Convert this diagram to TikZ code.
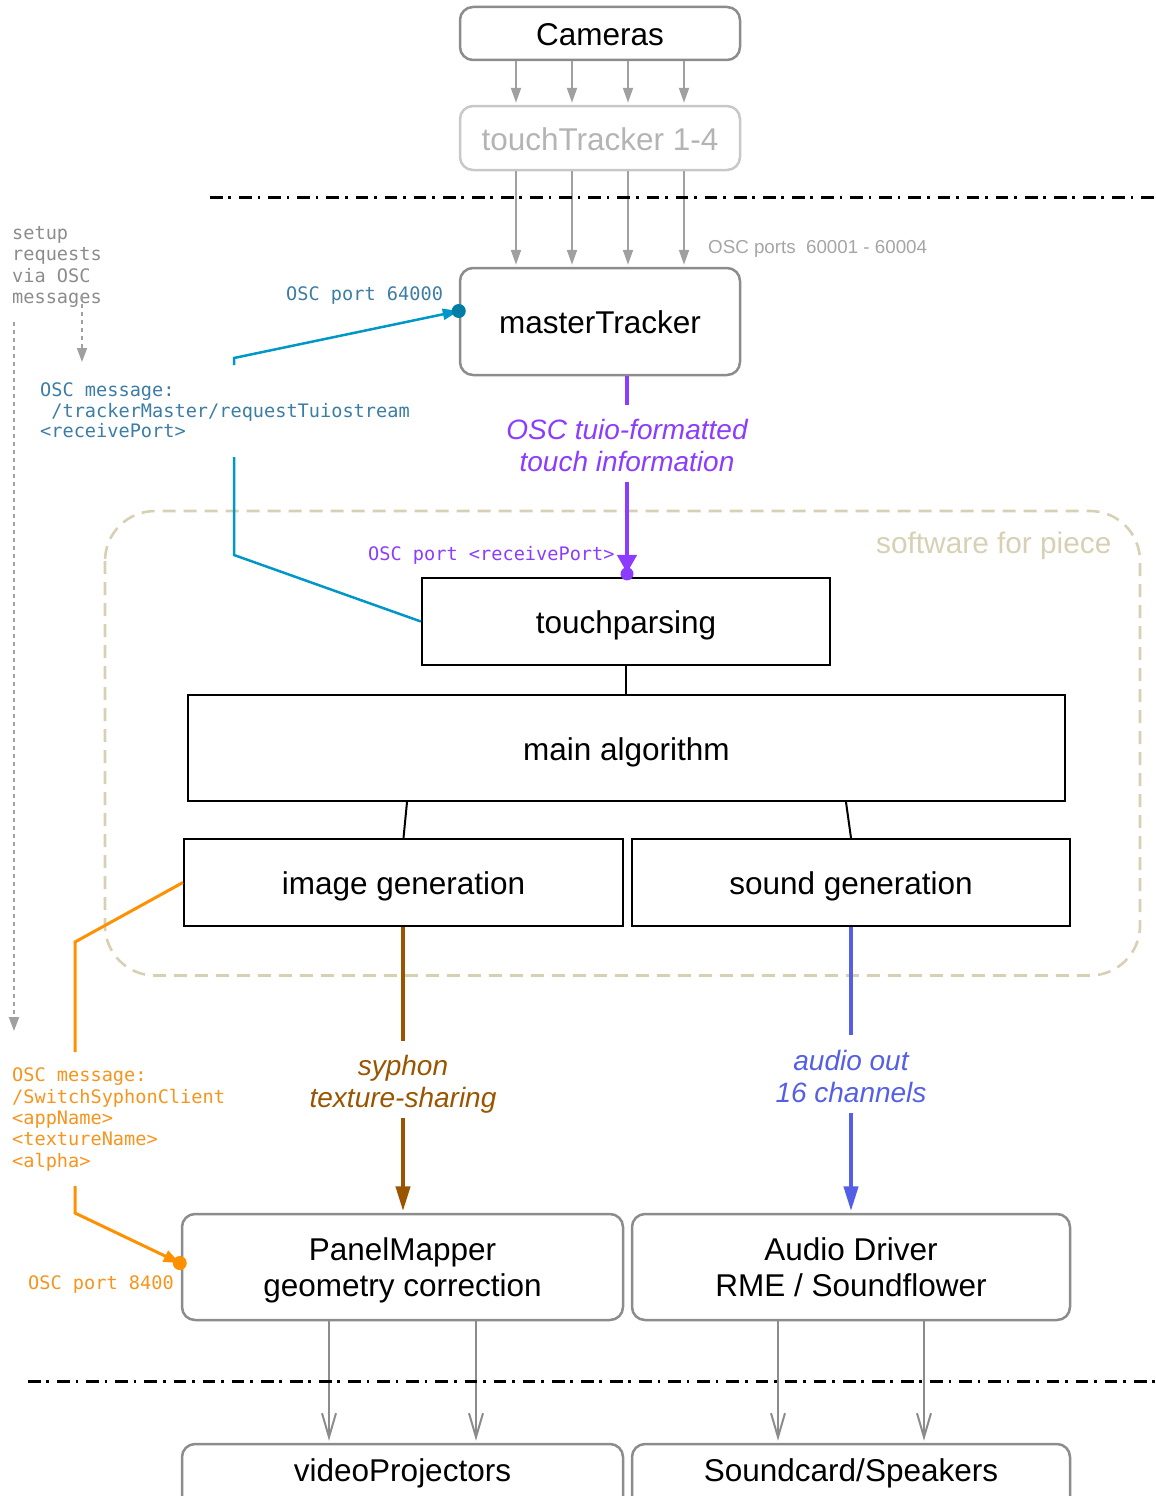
\documentclass[tikz,border=0pt]{standalone}
\usepackage{fontspec}
\setmainfont{Liberation Sans}
\newfontfamily\monof{DejaVu Sans Mono}
\usetikzlibrary{arrows.meta,calc}
\definecolor{boxgray}{HTML}{8C8C8C}
\definecolor{argray}{HTML}{A0A0A0}
\definecolor{ltgray}{HTML}{C8C8C8}
\definecolor{lttext}{HTML}{B4B4B4}
\definecolor{portgray}{HTML}{A5A5A5}
\definecolor{setupgray}{HTML}{8C8C8C}
\definecolor{tanc}{HTML}{D8D0B4}
\definecolor{reqblue}{HTML}{0096C8}
\definecolor{dotblue}{HTML}{007DA5}
\definecolor{txtblue}{HTML}{3C7DA5}
\definecolor{tuioc}{HTML}{8C3CFF}
\definecolor{syph}{HTML}{995500}
\definecolor{audioc}{HTML}{555FE6}
\definecolor{orng}{HTML}{FF9100}
\definecolor{orngtxt}{HTML}{F7941D}
\begin{document}
\begin{tikzpicture}[x=1pt,y=-1pt,
 gbox/.style={draw=boxgray,line width=2.5pt,rounded corners=13pt,inner sep=0pt,align=center,font=\fontsize{31.5}{36}\selectfont},
 kbox/.style={draw=black,line width=2.2pt,inner sep=0pt,font=\fontsize{31.5}{36}\selectfont},
 oneline/.style={text height=24pt,text depth=0pt},
 garrow/.style={draw=argray,line width=2pt,-{Triangle[length=15pt,width=10pt]},shorten >=2pt},
 barb/.style={draw=boxgray,line width=2pt,-{Straight Barb[length=24pt,width=14pt]},shorten >=2pt},
 dashdot/.style={line width=3pt,dash pattern=on 12.7pt off 5.7pt on 2.7pt off 8pt},
 mono/.style={font=\monof\fontsize{18.6}{21.3}\selectfont,anchor=base west,inner sep=0pt},
 flowlabel/.style={font=\itshape\fontsize{28}{31.5}\selectfont,align=center,inner sep=0pt},
 dotted gray/.style={draw=argray,line width=2pt,dash pattern=on 4pt off 4pt,-{Triangle[length=14pt,width=10pt]}},
]
\useasboundingbox (0,0) rectangle (1156,1496);
\clip (0,0) rectangle (1156,1496);

% software frame
\draw[tanc,line width=2.6pt,dash pattern=on 13pt off 8pt,rounded corners=50pt] (105,511) rectangle (1140,975.5);
\node[anchor=base west,inner sep=0pt,text=tanc,font=\fontsize{29.8}{34}\selectfont] (sw) at (876,553) {software for piece};

% nodes
\node[gbox,oneline,minimum width=280pt,minimum height=53pt] (cam) at (600,33.5) {Cameras};
\node[gbox,oneline,draw=ltgray,text=lttext,minimum width=280pt,minimum height=64pt] (tt) at (600,138) {touchTracker 1-4};
\node[gbox,oneline,minimum width=280pt,minimum height=107pt] (mt) at (600,321.5) {masterTracker};
\node[kbox,oneline,minimum width=408pt,minimum height=87pt] (tp) at (626,621.5) {touchparsing};
\node[kbox,oneline,minimum width=877pt,minimum height=106pt] (ma) at (626.5,748) {main algorithm};
\node[kbox,oneline,minimum width=439pt,minimum height=87pt] (ig) at (403.5,882.5) {image generation};
\node[kbox,oneline,minimum width=438pt,minimum height=87pt] (sg) at (851,882.5) {sound generation};
\node[gbox,text depth=0pt,minimum width=441pt,minimum height=106pt] (pm) at (402.5,1267) {PanelMapper\\geometry correction};
\node[gbox,minimum width=438pt,minimum height=106pt] (ad) at (851,1267) {Audio Driver\\RME / Soundflower};
\node[gbox,minimum width=441pt,minimum height=80pt] (vp) at (402.5,1484) {};
\node[oneline,font=\fontsize{31.5}{36}\selectfont,inner sep=0pt] (vpt) at (402.5,1469.5) {videoProjectors};
\node[gbox,minimum width=438pt,minimum height=80pt] (sp) at (851,1484) {};
\node[oneline,font=\fontsize{31.5}{36}\selectfont,inner sep=0pt] (spt) at (851,1469.5) {Soundcard/Speakers};

% gray tracker arrows
\foreach \x in {516,572,628,684}{
  \coordinate (cx) at (\x,0);
  \draw[garrow] (cam.south -| cx) -- (tt.north -| cx);
  \draw[garrow] (tt.south -| cx) -- (mt.north -| cx);
}
\node[anchor=base west,inner sep=0pt,text=portgray,font=\fontsize{18.75}{22}\selectfont] (ports) at (708,253) {OSC ports~ 60001 - 60004};

% bottom arrows
\foreach \x in {329,476}{
  \coordinate (bx) at (\x,0);
  \draw[barb] (pm.south -| bx) -- (vp.north -| bx);
}
\foreach \x in {778,924}{
  \coordinate (bx) at (\x,0);
  \draw[barb] (ad.south -| bx) -- (sp.north -| bx);
}

% separators
\coordinate (s1a) at (210,197); \coordinate (s1b) at (1160,197);
\coordinate (s2a) at (28,1381); \coordinate (s2b) at (1160,1381);
\draw[dashdot] (s1a) -- (s1b);
\draw[dashdot] (s2a) -- (s2b);

% internal connectors
\coordinate (c406) at (407,0); \coordinate (c846) at (846,0);
\draw[line width=2pt] (tp.south) -- (ma.north -| tp.south);
\draw[line width=2pt] (ma.south -| c406) -- (ig.north);
\draw[line width=2pt] (ma.south -| c846) -- (sg.north);

% tuio flow
\node[flowlabel,text=tuioc] (tuiol) at (627,445.3) {OSC tuio-formatted\\touch information};
\draw[tuioc,line width=4.5pt] (mt.south -| tuiol) -- ([yshift=14pt]tuiol.north);
\draw[tuioc,line width=4.5pt,-{Triangle[length=18pt,width=19pt]},shorten >=4pt] ([yshift=-10.5pt]tuiol.south) -- (tp.north -| tuiol);
\fill[tuioc] ($(tp.north -| tuiol)+(0,-3)$) circle (6.5pt);
\node[mono,text=tuioc] (pp) at (368,560) {OSC port <receivePort>};

% syphon flow
\node[flowlabel,text=syph] (syl) at (403,1084.3) {syphon\\texture-sharing};
\draw[syph,line width=4.3pt] (ig.south -| syl) -- ([yshift=14.5pt]syl.north);
\draw[syph,line width=4.3pt,-{Triangle[length=25pt,width=14pt]},shorten >=1.5pt] ([yshift=-4.2pt]syl.south) -- (pm.north -| syl);

% audio flow
\node[flowlabel,text=audioc] (aul) at (851,1076.3) {audio out\\16 channels};
\draw[audioc,line width=4.3pt] (sg.south -| aul) -- ([yshift=14.6pt]aul.north);
\draw[audioc,line width=4.3pt,-{Triangle[length=25pt,width=14pt]},shorten >=1.5pt] ([yshift=-10.3pt]aul.south) -- (ad.north -| aul);

% setup text and dotted arrows
\node[mono,text=setupgray] (su1) at (12,239) {setup};
\node[mono,text=setupgray] (su2) at (12,260.5) {requests};
\node[mono,text=setupgray] (su3) at (12,282) {via OSC};
\node[mono,text=setupgray] (su4) at (12,303.5) {messages};
\coordinate (d1) at (82,296); \coordinate (d2) at (82,362);
\coordinate (d3) at (14,322); \coordinate (d4) at (14,1031);
\draw[dotted gray] (d1) -- (d2);
\draw[dotted gray] (d3) -- (d4);

% request message (blue)
\node[mono,text=txtblue] (rm1) at (40,396) {OSC message:};
\node[mono,text=txtblue] (rm2) at (51.2,417) {/trackerMaster/requestTuiostream};
\node[mono,text=txtblue] (rm3) at (40,437.5) {<receivePort>};
\node[mono,text=txtblue] (bp) at (286,300) {OSC port 64000};
\coordinate (rq1) at (234,365); \coordinate (rq2) at (234,358); \coordinate (mtin) at (0,311);
\coordinate (rq3) at (234,457); \coordinate (rq4) at (234,555);
\draw[reqblue,line width=2.5pt,-{Triangle[length=16pt,width=11pt]}] (rq1) -- (rq2) -- (mt.west |- mtin);
\fill[dotblue] (mt.west |- mtin) circle (7pt);
\draw[reqblue,line width=2.5pt] (rq3) -- (rq4) -- (tp.west);

% syphon client message (orange)
\node[mono,text=orngtxt] (om1) at (12,1081.7) {OSC message:};
\node[mono,text=orngtxt] (om2) at (12,1103) {/SwitchSyphonClient};
\node[mono,text=orngtxt] (om3) at (12,1124.3) {<appName>};
\node[mono,text=orngtxt] (om4) at (12,1145.6) {<textureName>};
\node[mono,text=orngtxt] (om5) at (12,1167) {<alpha>};
\node[mono,text=orngtxt] (op) at (28,1289) {OSC port 8400};
\coordinate (o1) at (75,942); \coordinate (o2) at (75,1052);
\coordinate (o3) at (75,1186); \coordinate (o4) at (75,1213); \coordinate (o5) at (0,1263);
\draw[orng,line width=3pt] (ig.west) -- (o1) -- (o2);
\draw[orng,line width=3pt,-{Triangle[length=16pt,width=12pt]}] (o3) -- (o4) -- ($(pm.west |- o5)+(-1,0)$);
\fill[orng] ($(pm.west |- o5)+(-1,0)$) circle (7pt);
\end{tikzpicture}
\end{document}
